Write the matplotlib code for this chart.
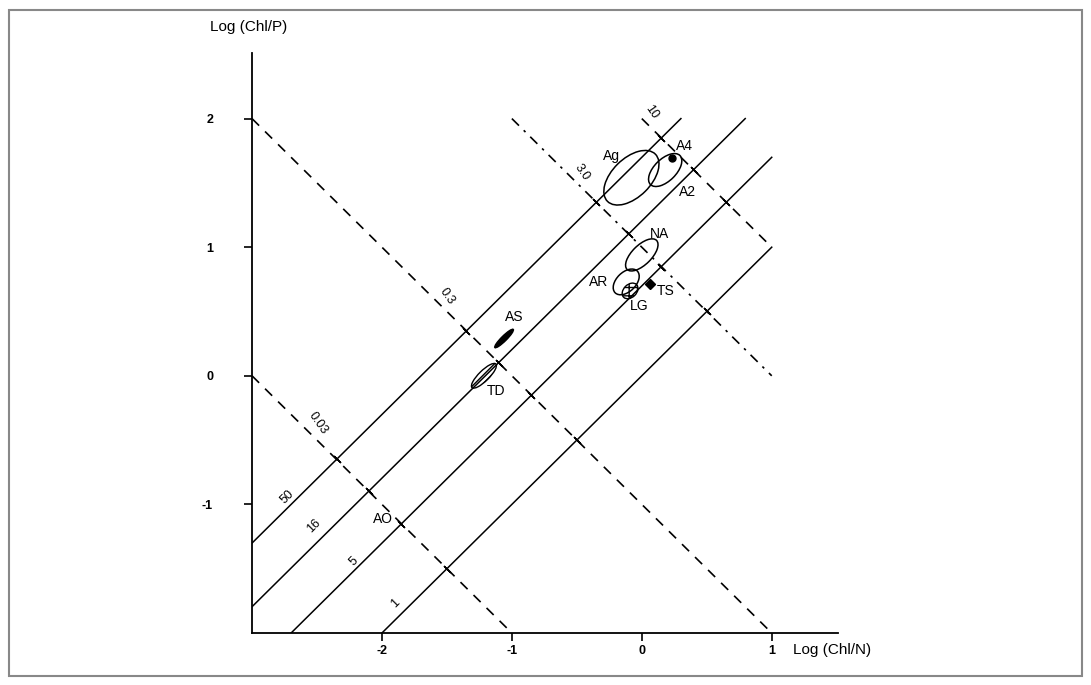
import numpy as np
import matplotlib
matplotlib.use('Agg')
import matplotlib.pyplot as plt
from matplotlib.patches import Ellipse, Rectangle

plt.rcParams['font.family'] = ['Liberation Sans', 'DejaVu Sans']

# N:P ratio lines, y = x + log10(ratio)
np_ratios = [50, 16, 5, 1]
np_labels = ['50', '16', '5', '1']
np_label_x = [-2.73, -2.52, -2.22, -1.90]
np_label_y = [-0.94, -1.17, -1.44, -1.77]

# dashed lines, y = -x + c
dash_c = [-3, -1, 1, 2]
dash_labels = ['0.03', '0.3', '3.0', '10']
dash_label_x = [-2.49, -1.50, -0.46, 0.075]
dash_label_y = [-0.37, 0.62, 1.58, 2.05]

# groups: centre, long axis, short axis
grp_names = ['Ag', 'A4', 'NA', 'AR', 'LG', 'AS', 'TD']
grp_x = [-0.08, 0.18, 0.00, -0.12, -0.09, -1.06, -1.215]
grp_y = [1.54, 1.60, 0.94, 0.73, 0.66, 0.29, 0.00]
grp_w = [0.52, 0.32, 0.32, 0.24, 0.14, 0.20, 0.26]
grp_h = [0.30, 0.17, 0.15, 0.15, 0.10, 0.04, 0.08]

lab_text = ['Ag', 'A4', 'A2', 'NA', 'AR', 'LG', 'TS', 'AS', 'TD', 'AO']
lab_x = [-0.23, 0.33, 0.35, 0.14, -0.33, -0.02, 0.18, -0.98, -1.12, -1.99]
lab_y = [1.71, 1.79, 1.43, 1.10, 0.73, 0.54, 0.66, 0.46, -0.12, -1.11]

ts_x, ts_y = [0.06], [0.715]
a4_dot_x, a4_dot_y = [0.23], [1.69]

xmin, xmax, ymin, ymax = -3, 1, -2, 2

fig = plt.figure(figsize=(10.91, 6.85), dpi=100)
fig.patches.append(Rectangle((9/1091, 9/685), 1073/1091, 666/685, transform=fig.transFigure,
                             fill=False, edgecolor='#888888', linewidth=1.5))
ax = fig.add_axes([252/1091, 52/685, 586/1091, 580/685])
ax.set_xlim(-3, 1.51)
ax.set_ylim(-2, 2.51)

# solid ratio lines
for r in np_ratios:
    b = np.log10(r)
    x0 = max(xmin, ymin - b)
    x1 = min(xmax, ymax - b)
    xs = np.array([x0, x1])
    ax.plot(xs, xs + b, color='black', lw=1.1)

# dashed lines
for i, c in enumerate(dash_c):
    x0 = max(xmin, c - ymax)
    x1 = min(xmax, c - ymin)
    xs = np.array([x0, x1])
    ls = (0, (6, 4, 1.5, 4)) if c == 1 else (0, (6, 5))
    ax.plot(xs, c - xs, color='black', lw=1.2, linestyle=ls)

# small ticks where the lines cross
for r in np_ratios:
    b = np.log10(r)
    for c in dash_c:
        xi = (c - b) / 2
        yi = (c + b) / 2
        if xmin < xi < xmax and ymin < yi < ymax:
            ax.plot(xi, yi, marker=(2, 2, 45), markersize=7, color='black', mew=1)

for i in range(len(np_labels)):
    ax.text(np_label_x[i], np_label_y[i], np_labels[i], rotation=45, fontsize=9,
            ha='center', va='center')
for i in range(len(dash_labels)):
    ax.text(dash_label_x[i], dash_label_y[i], dash_labels[i], rotation=-55, fontsize=9,
            ha='center', va='center')

# group ellipses
for i, g in enumerate(grp_names):
    if g == 'AS':
        e = Ellipse((grp_x[i], grp_y[i]), grp_w[i], grp_h[i], angle=45,
                    facecolor='black', edgecolor='black', lw=1)
    elif g in ('LG', 'TD'):
        e = Ellipse((grp_x[i], grp_y[i]), grp_w[i], grp_h[i], angle=45,
                    facecolor='none', edgecolor='black', lw=1,
                    hatch='++' if g == 'LG' else '////')
    else:
        e = Ellipse((grp_x[i], grp_y[i]), grp_w[i], grp_h[i], angle=45,
                    facecolor='none', edgecolor='black', lw=1.1)
    ax.add_patch(e)

ax.plot(ts_x, ts_y, marker='D', markersize=5, color='black', linestyle='none')
ax.plot(a4_dot_x, a4_dot_y, marker='o', markersize=5, color='black', linestyle='none')

for i in range(len(lab_text)):
    ax.text(lab_x[i], lab_y[i], lab_text[i], fontsize=10, ha='center', va='center')

ax.spines['top'].set_visible(False)
ax.spines['right'].set_visible(False)
ax.spines['left'].set_linewidth(1.3)
ax.spines['bottom'].set_linewidth(1.3)
ax.set_xticks([-2, -1, 0, 1])
ax.set_xticklabels(['-2', '-1', '0', '1'])
ax.set_yticks([-1, 0, 1, 2])
ax.set_yticklabels(['-1', '0', '1', '2'])
ax.tick_params(direction='out', length=6, width=1.2, labelsize=9)
ax.tick_params(axis='y', pad=22)
ax.tick_params(axis='x', pad=3)
for lbl in ax.get_xticklabels() + ax.get_yticklabels():
    lbl.set_fontweight('bold')

fig.text(210/1091, 1 - 27/685, 'Log (Chl/P)', fontsize=11, ha='left', va='center')
fig.text(793/1091, 1 - 650/685, 'Log (Chl/N)', fontsize=11, ha='left', va='center')

fig.savefig('out.png', dpi=100)
